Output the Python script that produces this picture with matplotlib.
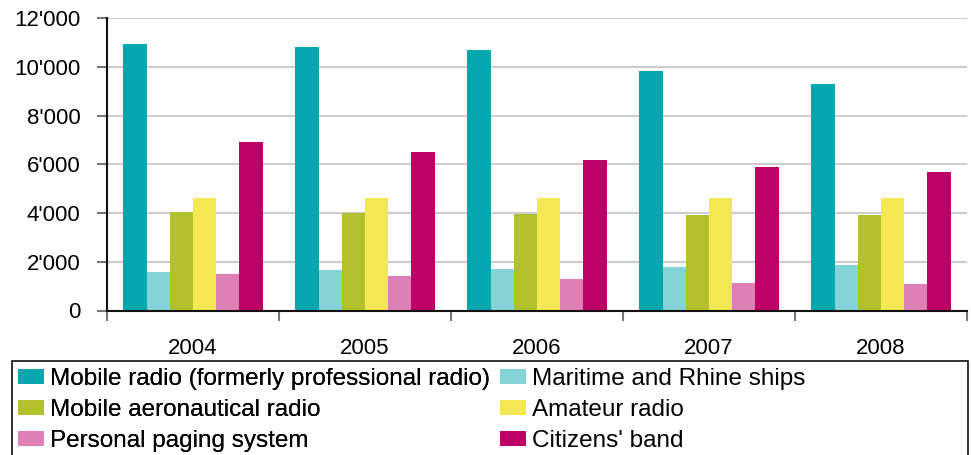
import numpy as np
import matplotlib
matplotlib.use("Agg")
import matplotlib.pyplot as plt
from matplotlib.patches import Rectangle
from matplotlib.ticker import FuncFormatter

plt.rcParams['font.family'] = ['Liberation Sans', 'DejaVu Sans']

years = ['2004', '2005', '2006', '2007', '2008']
services = ['Mobile radio (formerly professional radio)', 'Maritime and Rhine ships',
            'Mobile aeronautical radio', 'Amateur radio',
            'Personal paging system', "Citizens' band"]
colors = ['#07A7B0', '#84D3D7', '#B2C02B', '#F3E853', '#DE7FB5', '#BC0066']

# licences per year
mobile_radio = [10930, 10830, 10680, 9820, 9300]
maritime = [1580, 1680, 1720, 1800, 1880]
aeronautical = [4030, 3980, 3970, 3920, 3920]
amateur = [4600, 4600, 4600, 4610, 4610]
paging = [1490, 1420, 1310, 1140, 1090]
citizens_band = [6930, 6500, 6170, 5880, 5680]
series = [mobile_radio, maritime, aeronautical, amateur, paging, citizens_band]

fig = plt.figure(figsize=(9.71, 4.55), dpi=100)
ax = fig.add_axes([107/971, 144.5/455, 860/971, 292.5/455])

x = np.arange(len(years))
w = 0.135
for i, (vals, c, name) in enumerate(zip(series, colors, services)):
    ax.bar(x + (i - 2.5) * w, vals, width=w, color=c, label=name, zorder=2)

ax.set_xlim(-0.5, len(years) - 0.5)
ax.set_ylim(0, 12000)
ax.set_yticks(np.arange(0, 12001, 2000))
ax.yaxis.set_major_formatter(FuncFormatter(lambda v, p: '0' if v == 0 else f"{int(v):,}".replace(',', "'")))
ax.grid(axis='y', color='#cccccc', linewidth=1.5, zorder=0)

ax.set_xticks(x)
ax.set_xticklabels(years)
ax.set_xticks(np.arange(-0.5, len(years)), minor=True)
ax.tick_params(axis='x', which='major', length=0, pad=20, labelsize=16)
ax.tick_params(axis='x', which='minor', length=7, width=1.5, color='#777777')
ax.tick_params(axis='y', length=7, width=1.5, color='#777777', pad=12, labelsize=16)

for s in ['top', 'right']:
    ax.spines[s].set_visible(False)
for s in ['left', 'bottom']:
    ax.spines[s].set_linewidth(1.5)
    ax.spines[s].set_color('#111111')

# legend box runs off the bottom edge
fig.patches.append(Rectangle((12/971, -0.05), 956/971, 0.05 + (455 - 361)/455,
                             transform=fig.transFigure, fill=False,
                             edgecolor='#111111', linewidth=1.2))

handles, labels = ax.get_legend_handles_labels()
leg_kw = dict(frameon=False, loc='upper left', fontsize=17.5,
              handlelength=1.05, handleheight=0.62, handletextpad=0.25,
              labelspacing=0.37, borderaxespad=0, borderpad=0)
# left column: entries 0, 2, 4; right column: 1, 3, 5
left = fig.legend(handles[0::2], labels[0::2],
                  bbox_to_anchor=(18/971, (455 - 368)/455), **leg_kw)
fig.add_artist(left)
fig.legend(handles[1::2], labels[1::2],
           bbox_to_anchor=(500/971, (455 - 368)/455), **leg_kw)

fig.savefig('out.png', dpi=100)
